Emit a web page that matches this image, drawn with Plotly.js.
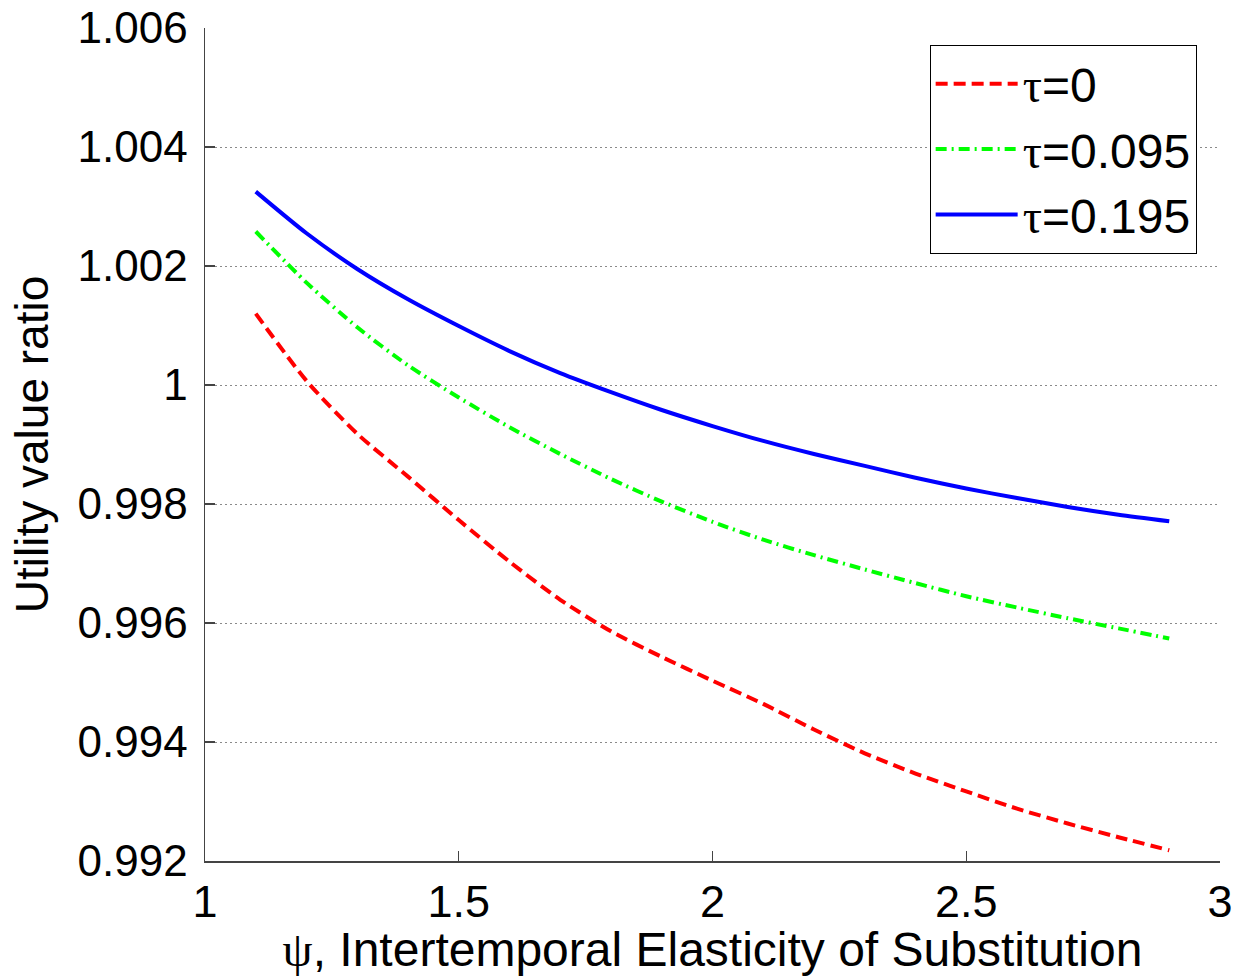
<!DOCTYPE html>
<html>
<head>
<meta charset="utf-8">
<script src="https://cdn.plot.ly/plotly-3.0.1.min.js"></script>
<style>html,body{margin:0;padding:0;background:#fff;}#chart{width:1239px;height:976px;}</style>
</head>
<body>
<div id="chart"></div>
<script>
const psi = [1.1,1.2,1.3,1.4,1.5,1.6,1.7,1.8,1.9,2.0,2.1,2.2,2.3,2.4,2.5,2.6,2.7,2.8,2.9];
const tau0 = [1.00120,1.00007,0.99918,0.99846,0.99773,0.99703,0.99639,0.99586,0.99543,0.99503,0.99464,0.99421,0.99381,0.99347,0.99317,0.99288,0.99263,0.99240,0.99218];
const tau095 = [1.00258,1.00172,1.00097,1.00033,0.99979,0.99929,0.99884,0.99842,0.99804,0.99770,0.99740,0.99714,0.99690,0.99667,0.99645,0.99626,0.99608,0.99591,0.99574];
const tau195 = [1.00325,1.00255,1.00195,1.00144,1.00099,1.00057,1.00020,0.99988,0.99958,0.99931,0.99906,0.99884,0.99864,0.99844,0.99826,0.99810,0.99795,0.99782,0.99771];
const seriesNames = ['0','0.095','0.195'];
const xTickVals = [1,1.5,2,2.5,3];
const xTickText = ['1','1.5','2','2.5','3'];
const yTickVals = [0.992,0.994,0.996,0.998,1.0,1.002,1.004,1.006];
const yTickText = ['0.992','0.994','0.996','0.998','1','1.002','1.004','1.006'];

const serif = 'font-family:Liberation Serif,Times New Roman,serif';
const tauLabel = v => '<span style="' + serif + '">τ</span>=' + v;

const traces = [
  {x: psi, y: tau0, name: tauLabel(seriesNames[0]), mode: 'lines',
   line: {color: '#ff0000', width: 4, dash: '12px,6px', shape: 'spline', smoothing: 0.7}},
  {x: psi, y: tau095, name: tauLabel(seriesNames[1]), mode: 'lines',
   line: {color: '#00ff00', width: 4, dash: '11px,5px,2px,5px', shape: 'spline', smoothing: 0.7}},
  {x: psi, y: tau195, name: tauLabel(seriesNames[2]), mode: 'lines',
   line: {color: '#0000ff', width: 4, shape: 'spline', smoothing: 0.7}}
];

const layout = {
  width: 1239, height: 976,
  margin: {l: 205, r: 19, t: 28, b: 115, pad: 0},
  paper_bgcolor: '#ffffff', plot_bgcolor: '#ffffff',
  font: {family: 'Liberation Sans, Arial, sans-serif', color: '#000'},
  showlegend: true,
  legend: {
    x: 0.977, y: 0.9796, xanchor: 'right', yanchor: 'top',
    bgcolor: '#ffffff', bordercolor: '#000000', borderwidth: 1,
    font: {size: 48, family: 'Liberation Sans, Arial, sans-serif', color: '#000'},
    itemwidth: 82,
    tracegroupgap: 0
  },
  xaxis: {
    range: [1, 3], tickvals: xTickVals, ticktext: xTickText,
    showgrid: false, zeroline: false,
    showline: true, linecolor: '#444', linewidth: 1.5, mirror: false,
    ticks: 'inside', ticklen: 10, tickwidth: 1.2, tickcolor: '#444',
    ticklabelstandoff: 0,
    tickfont: {size: 45, family: 'Liberation Sans, Arial, sans-serif', color: '#000'},
    title: {text: '<span style="' + serif + '">ψ</span>, Intertemporal Elasticity of Substitution',
            font: {size: 48, family: 'Liberation Sans, Arial, sans-serif', color: '#000'}, standoff: 14}
  },
  yaxis: {
    range: [0.992, 1.006], tickvals: yTickVals, ticktext: yTickText,
    showgrid: true, gridcolor: '#8a8a8a', gridwidth: 1, griddash: '1.5px,3.5px',
    zeroline: false,
    showline: true, linecolor: '#444', linewidth: 1.5, mirror: false,
    ticks: 'inside', ticklen: 10, tickwidth: 1.2, tickcolor: '#444',
    ticklabelstandoff: 7,
    tickfont: {size: 44, family: 'Liberation Sans, Arial, sans-serif', color: '#000'},
    title: {text: 'Utility value ratio',
            font: {size: 46, family: 'Liberation Sans, Arial, sans-serif', color: '#000'}, standoff: 14}
  }
};

Plotly.newPlot('chart', traces, layout, {displayModeBar: false, staticPlot: true});
</script>
</body>
</html>
